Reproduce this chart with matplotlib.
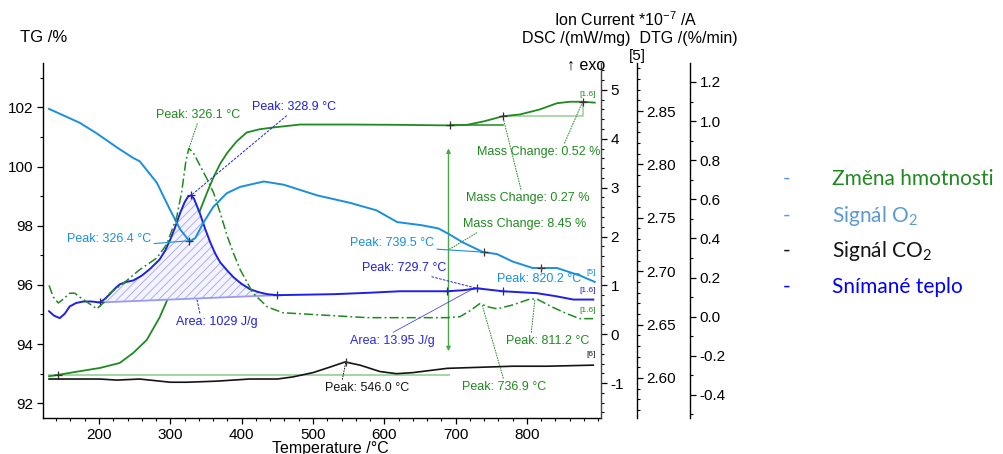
import numpy as np
import matplotlib.pyplot as plt
from matplotlib.ticker import MultipleLocator, FixedLocator, FormatStrFormatter, FuncFormatter

plt.rcParams['font.family'] = ['Liberation Sans', 'DejaVu Sans']
plt.rcParams['axes.linewidth'] = 1.0
plt.rcParams['hatch.linewidth'] = 0.7
plt.rcParams['mathtext.fontset'] = 'custom'
plt.rcParams['mathtext.rm'] = 'Lato'

# TG, mass change in %
tg_temp = [130, 143, 170, 201, 229, 248, 267, 285, 295, 304,
           313, 323, 333, 342, 352, 361, 370, 380, 393, 407,
           425, 444, 482, 550, 620, 692, 716, 740, 766, 790,
           818, 842, 860, 878, 895]
tg_val = [92.91, 92.96, 93.07, 93.19, 93.36, 93.70, 94.14, 94.90, 95.45, 96.07,
          96.65, 97.20, 97.90, 98.54, 99.15, 99.66, 100.10, 100.47, 100.85, 101.15,
          101.26, 101.32, 101.42, 101.42, 101.41, 101.39, 101.41, 101.53, 101.70, 101.76,
          101.93, 102.14, 102.19, 102.19, 102.16]

# DSC heat flow, mW/mg
dsc_temp = [130, 137, 145, 152, 159, 168, 178, 190, 201, 208,
            215, 222, 229, 238, 248, 260, 271, 285, 293, 300,
            307, 314, 320, 325, 329, 333, 338, 342, 349, 356,
            363, 370, 380, 389, 400, 412, 424, 436, 450, 490,
            530, 580, 622, 660, 688, 710, 730, 748, 766, 790,
            814, 840, 865, 893]
dsc_val = [0.47, 0.38, 0.33, 0.42, 0.57, 0.64, 0.67, 0.67, 0.65, 0.72,
           0.82, 0.93, 1.02, 1.07, 1.10, 1.20, 1.33, 1.53, 1.72, 1.94,
           2.20, 2.49, 2.70, 2.82, 2.84, 2.78, 2.60, 2.45, 2.15, 1.88,
           1.65, 1.47, 1.30, 1.16, 1.03, 0.92, 0.86, 0.82, 0.80, 0.81,
           0.82, 0.85, 0.88, 0.88, 0.88, 0.90, 0.94, 0.91, 0.88, 0.86,
           0.84, 0.78, 0.71, 0.71]

# DTG, %/min
dtg_temp = [130, 136, 143, 150, 159, 166, 173, 185, 197, 206,
            215, 234, 257, 281, 295, 309, 316, 322, 326, 332,
            342, 352, 361, 370, 380, 389, 398, 416, 436, 458,
            482, 529, 576, 622, 688, 706, 720, 734, 746, 758,
            780, 804, 814, 835, 856, 874, 893]
dtg_val = [0.16, 0.10, 0.07, 0.09, 0.12, 0.12, 0.10, 0.07, 0.04, 0.07,
           0.12, 0.17, 0.24, 0.30, 0.37, 0.51, 0.64, 0.80, 0.86, 0.84,
           0.77, 0.70, 0.63, 0.53, 0.41, 0.32, 0.24, 0.12, 0.05, 0.02,
           0.015, 0.005, -0.005, -0.005, -0.005, 0.0, 0.03, 0.067, 0.05, 0.04,
           0.06, 0.09, 0.09, 0.05, 0.015, -0.01, -0.01]

# ion current *1e-7 A: O2 (m/z 32) and CO2 (m/z 44)
o2_temp = [130, 173, 197, 225, 248, 257, 281, 300, 314, 327,
           335, 346, 360, 379, 398, 431, 459, 506, 552, 589,
           618, 653, 676, 690, 710, 738, 758, 780, 808, 842,
           874, 895]
o2_val = [2.852, 2.839, 2.829, 2.816, 2.806, 2.803, 2.783, 2.757, 2.739, 2.728,
          2.731, 2.745, 2.760, 2.773, 2.779, 2.784, 2.781, 2.771, 2.764, 2.757,
          2.746, 2.743, 2.740, 2.735, 2.727, 2.718, 2.716, 2.709, 2.703, 2.703,
          2.696, 2.690]
co2_temp = [130, 201, 225, 257, 300, 323, 365, 411, 450, 472,
            500, 523, 545, 566, 594, 617, 640, 664, 688, 734,
            780, 828, 893]
co2_val = [2.599, 2.599, 2.598, 2.599, 2.596, 2.596, 2.597, 2.599, 2.599, 2.601,
           2.605, 2.610, 2.615, 2.612, 2.606, 2.604, 2.605, 2.607, 2.609, 2.610,
           2.611, 2.611, 2.612]

# evaluated peaks / steps
dsc_peaks = [328.9, 729.7]
dtg_peaks = [326.1, 736.9, 811.2]
o2_peaks = [326.4, 739.5, 820.2]
co2_peaks = [546.0]
dsc_area_1 = (201, 450, 1029)
dsc_area_2 = (688, 766, 13.95)
mass_steps = [(143, 692, 8.45), (692, 766, 0.27), (766, 878, 0.52)]

temp_ticks = [200, 300, 400, 500, 600, 700, 800]
legend_labels = ['Změna hmotnosti', 'Signál O$_\\mathregular{2}$',
                 'Signál CO$_\\mathregular{2}$', 'Snímané teplo']

GREEN = '#1f8a1f'
BLUE = '#1f1fe6'
LBLUE = '#1a8fe0'
BLACK = '#141414'
LGREEN = '#a8d5a8'
MARK = '#333333'

W, H = 1004, 454
fig = plt.figure(figsize=(W / 100, H / 100), dpi=100)


def fxy(x, y):
    return (x / W, 1 - y / H)


ax = fig.add_axes([43 / W, 36 / H, 558 / W, 355 / H])
ax_dsc = ax.twinx()
ax_ic = ax.twinx()
ax_dtg = ax.twinx()

ax.set_xlim(121.5, 903.8)
ax.set_ylim(91.5, 103.5)
ax_dsc.set_ylim(-1.714, 5.551)
ax_ic.set_ylim(2.5625, 2.895)
ax_dtg.set_ylim(-0.518, 1.297)

for a in (ax, ax_dsc, ax_ic, ax_dtg):
    a.spines['top'].set_visible(False)
for a in (ax_dsc, ax_ic, ax_dtg):
    a.spines['left'].set_visible(False)
    a.spines['bottom'].set_visible(False)
ax.spines['right'].set_visible(False)
ax_ic.spines['right'].set_position(('axes', 594 / 558))
ax_dtg.spines['right'].set_position(('axes', 647 / 558))
ax_dsc.spines['right'].set_color('#444444')

ax.xaxis.set_major_locator(FixedLocator(temp_ticks))
ax.xaxis.set_minor_locator(MultipleLocator(20))
ax.yaxis.set_major_locator(MultipleLocator(2))
ax.yaxis.set_minor_locator(MultipleLocator(1))
ax_dsc.yaxis.set_major_locator(MultipleLocator(1))
ax_dsc.yaxis.set_minor_locator(MultipleLocator(0.2))
ax_dsc.yaxis.set_major_formatter(FuncFormatter(lambda v, p: f"{round(v) + 0:d}"))
ax_ic.yaxis.set_major_locator(MultipleLocator(0.05))
ax_ic.yaxis.set_minor_locator(MultipleLocator(0.01))
ax_ic.yaxis.set_major_formatter(FormatStrFormatter('%.2f'))
ax_dtg.yaxis.set_major_locator(MultipleLocator(0.2))
ax_dtg.yaxis.set_minor_locator(MultipleLocator(0.1))
ax_dtg.yaxis.set_major_formatter(FuncFormatter(lambda v, p: f"{round(v, 2) + 0:.1f}"))

for a in (ax, ax_dsc, ax_ic, ax_dtg):
    a.tick_params(which='major', length=4, width=0.9, labelsize=11, pad=3, direction='out')
    a.tick_params(which='minor', length=2.5, width=0.8, direction='out')

# curves
ax.plot(tg_temp, tg_val, color=GREEN, lw=1.3, zorder=3)
ax_ic.plot(o2_temp, o2_val, color=LBLUE, lw=1.4)
ax_ic.plot(co2_temp, co2_val, color=BLACK, lw=1.2)
ax_dsc.plot(dsc_temp, dsc_val, color=BLUE, lw=1.4, zorder=3)
ax_dtg.plot(dtg_temp, dtg_val, color=GREEN, lw=1.1, dashes=(6, 2, 1.2, 2))

# DSC peak area with a straight baseline
t0, t1, area = dsc_area_1
base_ends = np.interp([t0, t1], dsc_temp, dsc_val)
grid = np.linspace(t0, t1, 300)
curve = np.interp(grid, dsc_temp, dsc_val)
base = np.interp(grid, [t0, t1], base_ends)
ax_dsc.fill_between(grid, base, curve, facecolor='#f4f4ff', edgecolor='#aeaef2',
                    hatch='////', lw=0)
ax_dsc.plot([t0, t1], base_ends, color='#9a9af0', lw=1.3)
ax_dsc.plot([t0, t1], base_ends, '+', color=MARK, ms=6, mew=0.9)
ax_dsc.plot(dsc_area_2[:2], np.interp(dsc_area_2[:2], dsc_temp, dsc_val), '+',
            color=MARK, ms=6, mew=0.9)

# TG mass change construction
start_lvl = np.interp(mass_steps[0][0], tg_temp, tg_val)
arrow_t = mass_steps[0][1] - 2
ax.plot([130, arrow_t], [start_lvl, start_lvl], color=LGREEN, lw=1.5, zorder=2)
lvl1 = np.interp(mass_steps[1][0], tg_temp, tg_val)
lvl2 = np.interp(mass_steps[1][1], tg_temp, tg_val)
lvl3 = np.interp(mass_steps[2][1], tg_temp, tg_val)
ax.plot([mass_steps[1][0], mass_steps[1][1]], [lvl1, lvl1], color=GREEN, lw=1.1)
ax.plot([mass_steps[2][0], mass_steps[2][1], mass_steps[2][1]], [lvl2, lvl2, lvl3],
        color=LGREEN, lw=1.3)
ax.annotate('', xy=(arrow_t, start_lvl), xytext=(arrow_t, start_lvl + mass_steps[0][2]),
            arrowprops=dict(arrowstyle='<|-|>', color='#4aa84a', lw=1.0,
                            shrinkA=17, shrinkB=17, mutation_scale=6))
step_t = [s[0] for s in mass_steps] + [mass_steps[2][1]]
ax.plot(step_t, np.interp(step_t, tg_temp, tg_val), '+', color=MARK, ms=6, mew=0.9, zorder=4)

# peak markers
ax_dsc.plot(dsc_peaks, np.interp(dsc_peaks, dsc_temp, dsc_val), '+', color=MARK, ms=6, mew=0.9)
ax_ic.plot(o2_peaks, np.interp(o2_peaks, o2_temp, o2_val), '+', color=MARK, ms=6, mew=0.9)
ax_ic.plot(co2_peaks, np.interp(co2_peaks, co2_temp, co2_val), '+', color=MARK, ms=6, mew=0.9)


def note(a, x, y, text, pos, color, rel, ls=':', lw=0.7):
    a.annotate(text, xy=(x, y), xytext=fxy(*pos), textcoords='figure fraction',
               color=color, fontsize=9, ha='left', va='center',
               arrowprops=dict(arrowstyle='-', color=color, lw=lw, ls=ls,
                               shrinkA=0, shrinkB=0, relpos=rel))


def at(t, xs, ys):
    return t, float(np.interp(t, xs, ys))


note(ax_dtg, *at(dtg_peaks[0], dtg_temp, dtg_val), f'Peak: {dtg_peaks[0]} °C', (156, 115), GREEN, (0.5, 0))
note(ax_dsc, *at(dsc_peaks[0], dsc_temp, dsc_val), f'Peak: {dsc_peaks[0]} °C', (252, 107), BLUE, (0.45, 0), ls=(0, (2, 2)))
note(ax_ic, *at(o2_peaks[0], o2_temp, o2_val), f'Peak: {o2_peaks[0]} °C', (67, 239), LBLUE, (1, 0.1), ls='-', lw=0.8)
note(ax_dsc, 337, float(np.interp(337, [t0, t1], base_ends)),
     f'Area: {area} J/g', (176, 322), BLUE, (0.3, 1), ls=(0, (2, 2)))
note(ax_ic, *at(co2_peaks[0], co2_temp, co2_val), f'Peak: {co2_peaks[0]} °C', (325, 388), BLACK, (0.2, 1))
note(ax_ic, *at(o2_peaks[1], o2_temp, o2_val), f'Peak: {o2_peaks[1]} °C', (350, 243), LBLUE, (1, 0), ls='-', lw=0.8)
note(ax_dsc, *at(dsc_peaks[1], dsc_temp, dsc_val), f'Peak: {dsc_peaks[1]} °C', (362, 268), BLUE, (0.7, 0), ls=(0, (2, 2)))
note(ax_dsc, *at(724, dsc_temp, dsc_val), f'Area: {dsc_area_2[2]} J/g', (350, 341), '#2a2ae0', (0.45, 1), ls='-', lw=0.5)
note(ax_ic, *at(o2_peaks[2], o2_temp, o2_val), f'Peak: {o2_peaks[2]} °C', (497, 279), LBLUE, (0.55, 1), ls='-', lw=0.5)
note(ax, *at(mass_steps[2][1], tg_temp, tg_val), f'Mass Change: {mass_steps[2][2]} %', (477, 152), GREEN, (0.7, 1))
note(ax, *at(mass_steps[1][1], tg_temp, tg_val), f'Mass Change: {mass_steps[1][2]} %', (466, 198), GREEN, (0.45, 1))
note(ax, arrow_t, start_lvl + mass_steps[0][2] / 2, f'Mass Change: {mass_steps[0][2]} %', (463, 224), GREEN, (0.15, 0))
note(ax_dtg, *at(dtg_peaks[2], dtg_temp, dtg_val), f'Peak: {dtg_peaks[2]} °C', (506, 341), GREEN, (0.3, 1))
note(ax_dtg, *at(dtg_peaks[1], dtg_temp, dtg_val), f'Peak: {dtg_peaks[1]} °C', (462, 387), GREEN, (0.5, 1))

# segment tags at the curve ends
for txt, y, c in [('[1.6]', 95, GREEN), ('[5]', 273, LBLUE), ('[1.6]', 290, BLUE),
                  ('[1.6]', 310, GREEN), ('[6]', 355, BLACK)]:
    fig.text(*fxy(596, y), txt, color=c, fontsize=6, ha='right', va='center')

# axis titles
fig.text(*fxy(20, 38), 'TG /%', fontsize=12, ha='left', va='center')
fig.text(*fxy(626, 20), 'Ion Current *10$^{\\mathregular{-7}}$ /A', fontsize=11.5, ha='center', va='center')
fig.text(*fxy(630, 38), 'DSC /(mW/mg)  DTG /(%/min)', fontsize=11.5, ha='center', va='center')
fig.text(*fxy(605, 65), '↑ exo', fontsize=11.5, ha='right', va='center')
fig.text(*fxy(637, 56), '[5]', fontsize=11, ha='center', va='center')
fig.text(*fxy(330, 441), 'Temperature /°C', fontsize=11.5, ha='center', va='top')

# legend block
legend_colors = [GREEN, '#5b9bd5', BLACK, '#0000ff']
dash_colors = ['#5b9bd5', '#5b9bd5', BLACK, '#0000ff']
for i, (lab, c, dc) in enumerate(zip(legend_labels, legend_colors, dash_colors)):
    y = [179, 216, 251, 287][i]
    fig.text(*fxy(787, y), '-', color=dc, fontsize=15, family='Lato', ha='center', va='center')
    fig.text(*fxy(832, y), lab, color=c, fontsize=15, family='Lato', ha='left', va='center')

fig.savefig('out.png', dpi=100, facecolor='white')
